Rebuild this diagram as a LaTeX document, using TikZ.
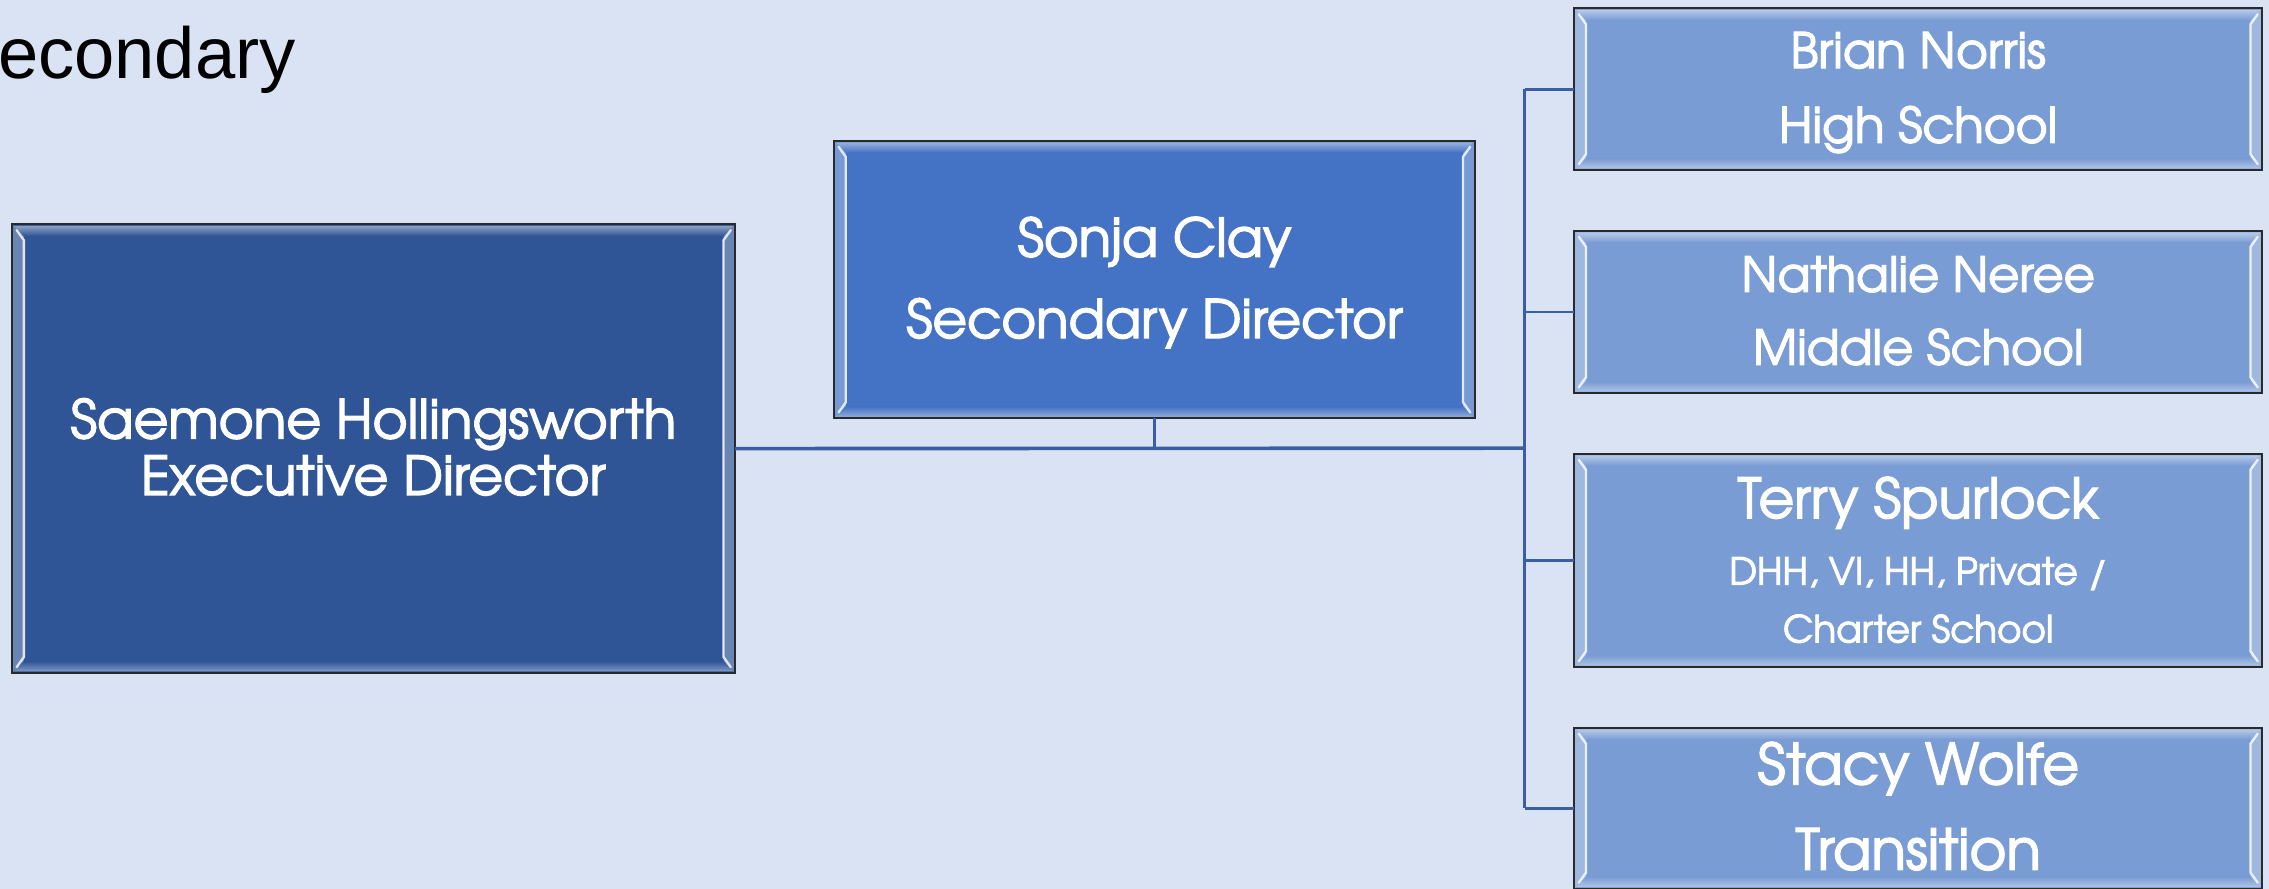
\documentclass[tikz,border=0pt]{standalone}
\usepackage{fontspec}
\setmainfont{Liberation Sans}
\newfontfamily\boxfont[FakeBold=2.5]{TeX Gyre Adventor}
\definecolor{bg}{HTML}{DAE3F3}
\definecolor{execc}{HTML}{2F5597}
\definecolor{dirc}{HTML}{4472C4}
\definecolor{subc}{HTML}{7A9CD4}
\definecolor{linec}{HTML}{3A5EA3}
\definecolor{edgec}{HTML}{2A2A2A}
\tikzset{
  box/.style={rectangle, draw=none, inner sep=0pt, outer sep=0pt, anchor=north west},
  lbl/.style={anchor=base, text=white, inner sep=0pt},
  conn/.style={draw=linec, line width=1.9pt},
  mainconn/.style={draw=linec, line width=2.5pt},
}
\newcommand\bevelbox[2]{%
  \fill[#2!72!white] (#1.north west) -- ([shift={(8,8)}]#1.north west) -- ([shift={(8,-8)}]#1.south west) -- (#1.south west) -- cycle;
  \fill[#2!72!white] (#1.north east) -- ([shift={(-8,8)}]#1.north east) -- ([shift={(-8,-8)}]#1.south east) -- (#1.south east) -- cycle;
  \shade[top color=#2!55!white, bottom color=#2] ([shift={(1,1)}]#1.north west) -- ([shift={(8,8)}]#1.north west) -- ([shift={(-8,8)}]#1.north east) -- ([shift={(-1,1)}]#1.north east) -- cycle;
  \shade[top color=#2, bottom color=#2!60!white] ([shift={(1,-1)}]#1.south west) -- ([shift={(8,-8)}]#1.south west) -- ([shift={(-8,-8)}]#1.south east) -- ([shift={(-1,-1)}]#1.south east) -- cycle;
  \draw[white!85!#2, line width=1.6pt, line cap=round] ([shift={(3,4)}]#1.north west) -- ([shift={(8,11)}]#1.north west) -- ([shift={(8,-11)}]#1.south west) -- ([shift={(3,-4)}]#1.south west);
  \draw[white!85!#2, line width=1.6pt, line cap=round] ([shift={(-3,4)}]#1.north east) -- ([shift={(-8,11)}]#1.north east) -- ([shift={(-8,-11)}]#1.south east) -- ([shift={(-3,-4)}]#1.south east);
  \draw[edgec, line width=1.3pt] (#1.north west) rectangle (#1.south east);
}
\begin{document}
\begin{tikzpicture}[x=1pt,y=-1pt]
\useasboundingbox (0,0) rectangle (1568,614);
\fill[bg] (0,0) rectangle (1568,614);

% title
\node[anchor=base east, inner sep=0pt, font=\fontsize{50}{50}\selectfont] (title) at (204.6,54) {Secondary};

% boxes
\node[box, fill=execc, minimum width=499.5pt, minimum height=310pt] (exec) at (8.5,155) {};
\node[box, fill=dirc, minimum width=442.5pt, minimum height=191.6pt] (dir) at (576.5,97.4) {};
\node[box, fill=subc, minimum width=475.2pt, minimum height=111.7pt] (brian) at (1088,5.8) {};
\node[box, fill=subc, minimum width=475.2pt, minimum height=112.1pt] (nath) at (1088,159.6) {};
\node[box, fill=subc, minimum width=475.2pt, minimum height=147.3pt] (terry) at (1088,313.7) {};
\node[box, fill=subc, minimum width=475.2pt, minimum height=111pt] (stacy) at (1088,503) {};

\bevelbox{exec}{execc}
\bevelbox{dir}{dirc}
\bevelbox{brian}{subc}
\bevelbox{nath}{subc}
\bevelbox{terry}{subc}
\bevelbox{stacy}{subc}

% labels
\node[lbl, font=\boxfont\fontsize{37}{37}\selectfont] (execA) at (258,303) {Saemone Hollingsworth};
\node[lbl, font=\boxfont\fontsize{37}{37}\selectfont] (execB) at (258,342) {Executive Director};
\node[lbl, font=\boxfont\fontsize{36.7}{36.7}\selectfont] (dirA) at (797.8,177.4) {Sonja Clay};
\node[lbl, font=\boxfont\fontsize{36.7}{36.7}\selectfont] (dirB) at (797.8,233.6) {Secondary Director};
\node[lbl, font=\boxfont\fontsize{33.7}{33.7}\selectfont] (brianA) at (1325.6,47) {Brian Norris};
\node[lbl, font=\boxfont\fontsize{33.7}{33.7}\selectfont] (brianB) at (1325.6,98.6) {High School};
\node[lbl, font=\boxfont\fontsize{33.2}{33.2}\selectfont] (nathA) at (1325.6,201.6) {Nathalie Neree};
\node[lbl, font=\boxfont\fontsize{33.2}{33.2}\selectfont] (nathB) at (1325.6,252) {Middle School};
\node[lbl, font=\boxfont\fontsize{38}{38}\selectfont] (terryA) at (1325.6,358) {Terry Spurlock};
\node[lbl, font=\boxfont\fontsize{25.8}{25.8}\selectfont] (terryB) at (1325.6,404) {DHH, VI, HH, Private /};
\node[lbl, font=\boxfont\fontsize{25.8}{25.8}\selectfont] (terryC) at (1325.6,444) {Charter School};
\node[lbl, font=\boxfont\fontsize{39}{39}\selectfont] (stacyA) at (1325.6,542) {Stacy Wolfe};
\node[lbl, font=\boxfont\fontsize{39}{39}\selectfont] (stacyB) at (1325.6,601) {Transition};

% connectors
\coordinate (j) at (1053.6,309.7);
\draw[mainconn] (exec.east) -- (j);
\draw[conn] (dir.south) -- (dir.south |- j);
\draw[conn] (j |- brian.west) -- (j |- stacy.west);
\draw[conn] (j |- brian.west) -- (brian.west);
\draw[conn] (j |- nath.west) -- (nath.west);
\draw[conn] (j |- terry.west) -- (terry.west);
\draw[conn] (j |- stacy.west) -- (stacy.west);
\end{tikzpicture}
\end{document}
